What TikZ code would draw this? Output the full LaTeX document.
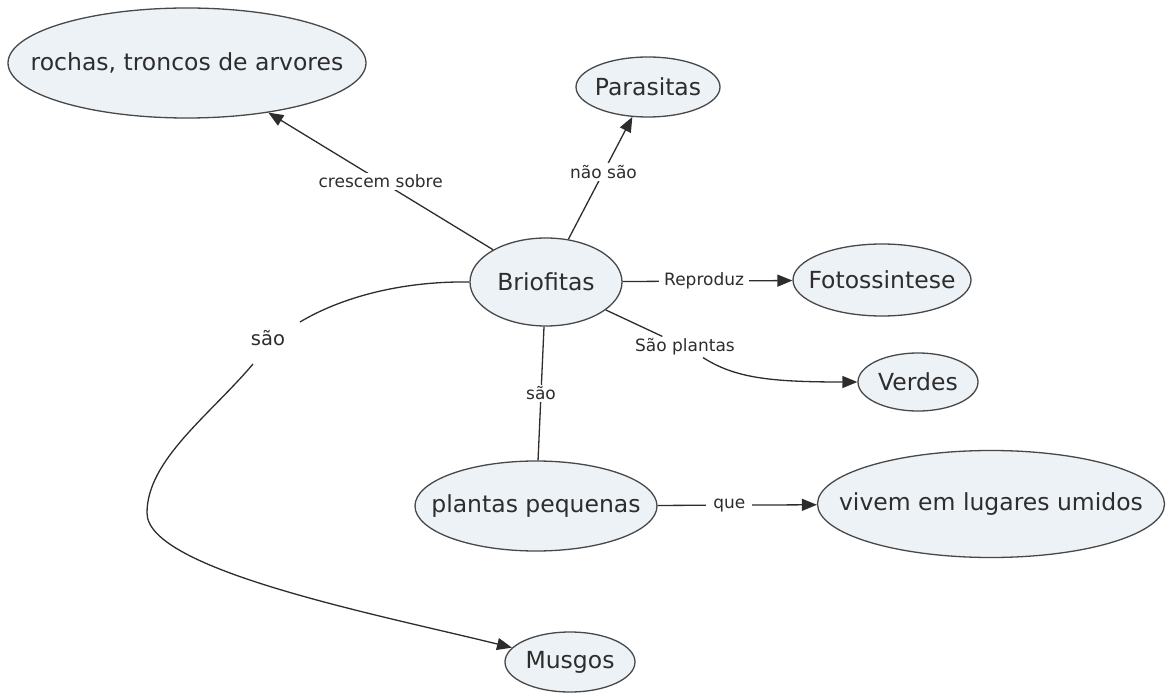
\documentclass[tikz,border=0pt]{standalone}
\usepackage{fontspec}
\setmainfont{DejaVu Sans}
\usetikzlibrary{shapes.geometric,arrows.meta}
\definecolor{ovalfill}{RGB}{236,242,246}
\definecolor{ovalline}{RGB}{72,72,72}
\definecolor{inkc}{RGB}{45,45,45}
% text of zero width, so that the oval keeps its given size
\newcommand\ovaltext[1]{\makebox[0pt]{#1}}
\begin{document}
\begin{tikzpicture}[x=1pt,y=-1pt,
  concept/.style={ellipse, draw=ovalline, line width=1.3pt, fill=ovalfill,
    inner sep=0pt, text=inkc, font=\fontsize{23.5}{28}\selectfont},
  link/.style={draw=inkc, line width=1.3pt},
  arr/.style={-{Triangle[length=15pt,width=12pt]}},
  lbl/.style={fill=white, inner xsep=5pt, inner ysep=2pt, text=inkc,
    font=\fontsize{17}{20}\selectfont},
]
% canvas
\path[fill=white] (0,0) rectangle (1168,698);
\useasboundingbox (0,0) rectangle (1168,698);

% concepts
\node[concept, minimum width=358pt, minimum height=110pt] (rochas) at (187,63) {\ovaltext{rochas, troncos de arvores}};
\node[concept, minimum width=144pt, minimum height=60pt] (paras) at (648,87) {\ovaltext{Parasitas}};
\node[concept, minimum width=152pt, minimum height=88pt] (bri) at (546,282) {\ovaltext{Briofitas}};
\node[concept, minimum width=178pt, minimum height=72pt] (foto) at (882,280) {\ovaltext{Fotossintese}};
\node[concept, minimum width=120pt, minimum height=58pt] (verdes) at (918,382) {\ovaltext{Verdes}};
\node[concept, minimum width=242pt, minimum height=90pt] (plantas) at (536,506) {\ovaltext{plantas pequenas}};
\node[concept, minimum width=347pt, minimum height=107pt] (vivem) at (991,504) {\ovaltext{vivem em lugares umidos}};
\node[concept, minimum width=130pt, minimum height=60pt] (musgos) at (570,662) {\ovaltext{Musgos}};

% straight links
\draw[link,arr] (bri) -- node[lbl]{crescem sobre} (rochas);
\draw[link,arr] (bri) -- node[lbl,pos=0.55]{não são} (paras);
\draw[link,arr] (bri) -- node[lbl,pos=0.48]{Reproduz} (foto);
\draw[link] (bri) -- node[lbl]{são} (plantas);
\draw[link,arr] (plantas) -- node[lbl,pos=0.45,inner xsep=7pt]{que} (vivem);

% "São plantas" link
\node[lbl] (lsp) at (685,347) {São plantas};
\draw[link] (bri) -- (lsp);
\draw[link,arr] ([xshift=18pt]lsp.south) .. controls (735,378) and (770,382) .. (verdes);

% "são" link round the left side
\node[lbl, font=\fontsize{19.5}{23}\selectfont] (ls) at (268,338) {são};
\coordinate (s1) at (300,322);
\coordinate (s2) at (253,364);
\coordinate (bend) at (147,513);
\draw[link] (bri.west) .. controls (400,281) and (340,298) .. (s1);
\draw[link,arr] (s2) .. controls (210,415) and (147,460) .. (bend)
  .. controls (147,570) and (380,615) .. (musgos);
\end{tikzpicture}
\end{document}
